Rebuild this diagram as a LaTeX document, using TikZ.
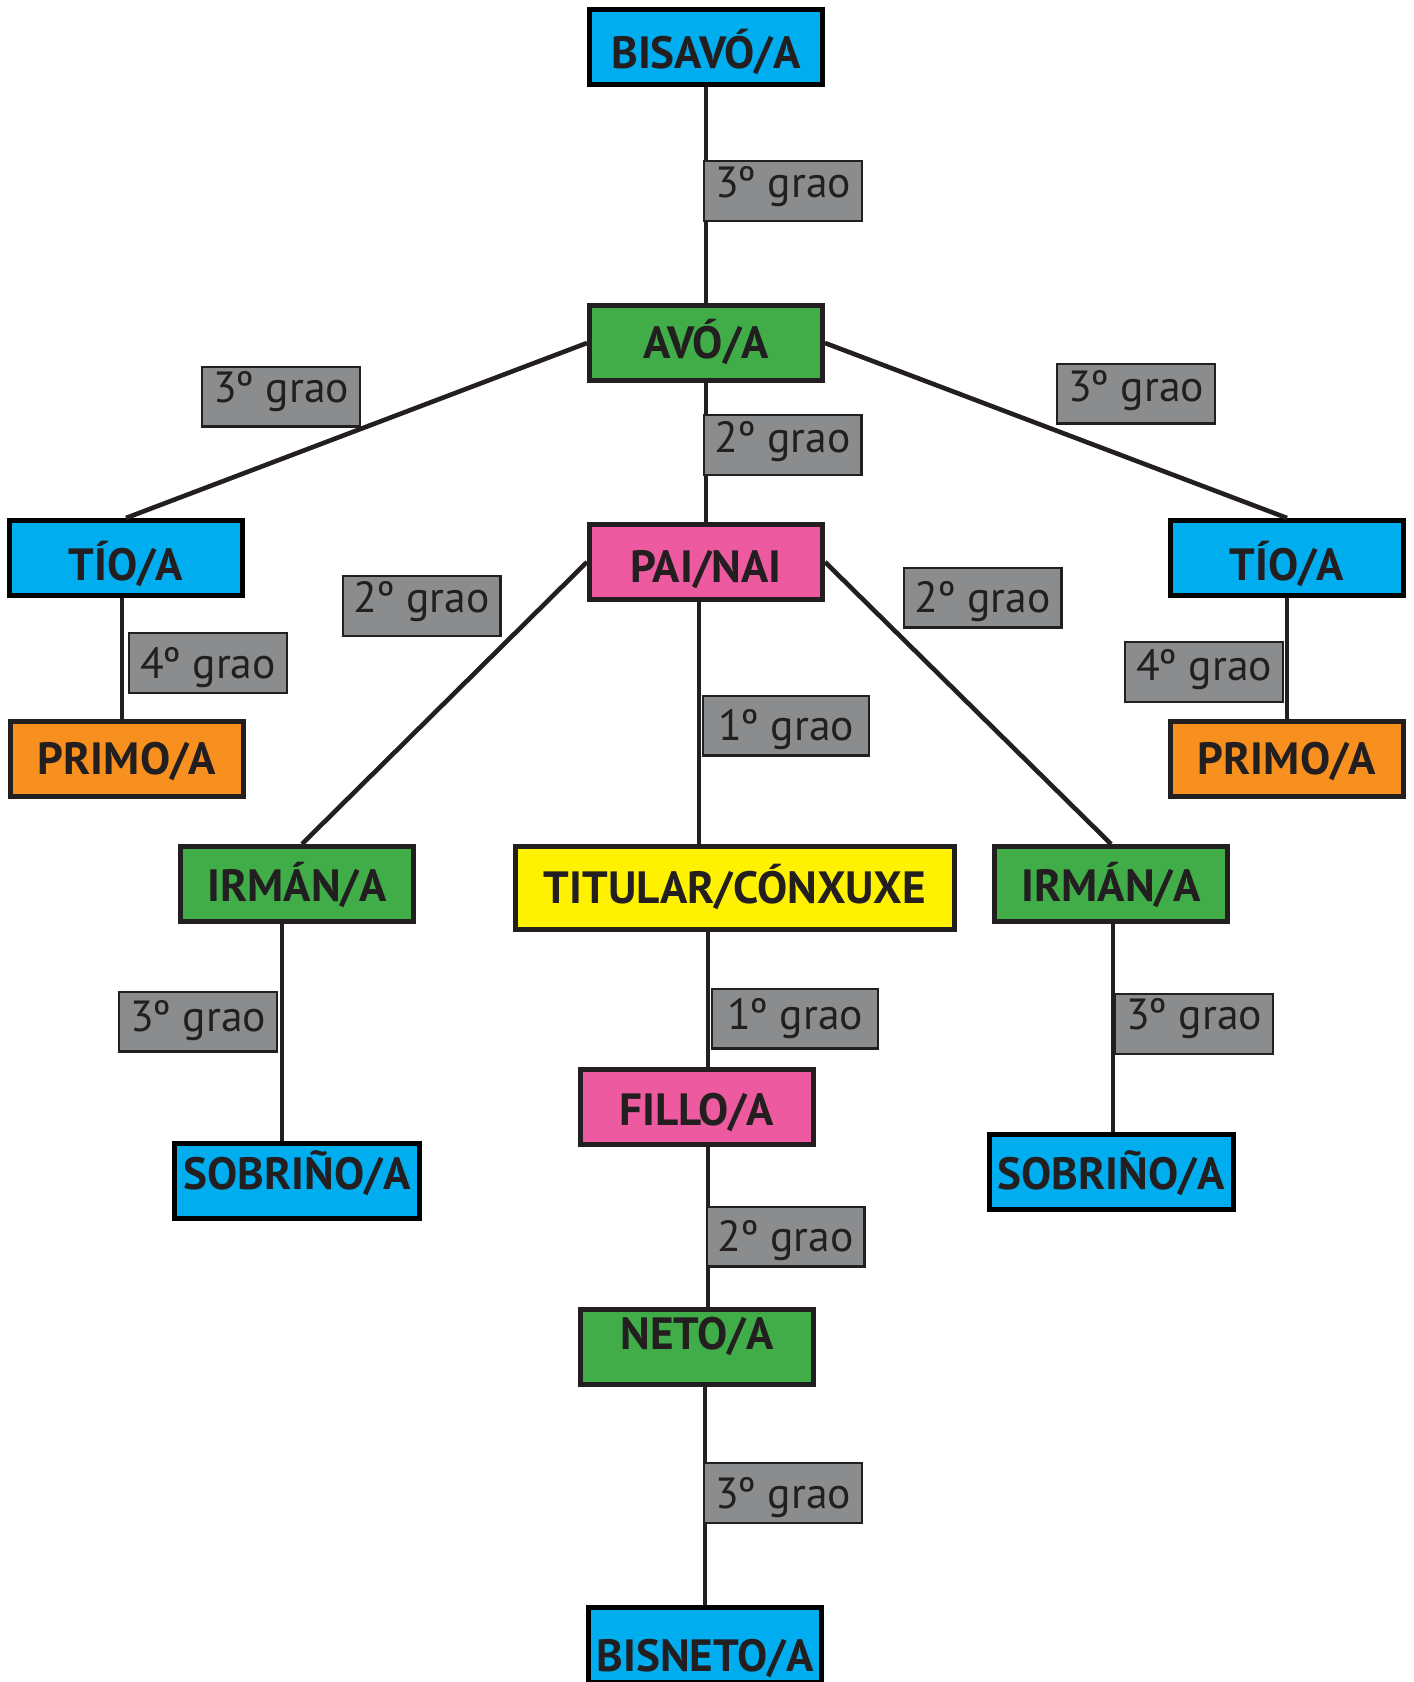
\documentclass[tikz,border=0pt]{standalone}
\usepackage{fontspec}
\setmainfont{PT Sans}
\definecolor{cblue}{HTML}{00AEEF}
\definecolor{cgreen}{HTML}{40AD49}
\definecolor{cpink}{HTML}{EE5A9F}
\definecolor{corange}{HTML}{F7901E}
\definecolor{cyellow}{HTML}{FFF200}
\definecolor{cgray}{HTML}{8A8C8E}
\definecolor{cdark}{HTML}{231F20}
\tikzset{
  box/.style={draw=cdark, line width=2.5pt, inner sep=0pt,
    minimum width=116.5pt, minimum height=37.5pt,
    font=\fontsize{22.6}{26}\selectfont\bfseries, text=cdark,
    text height=15.8pt, text depth=0pt},
  bluebox/.style={box, draw=black, fill=cblue},
  lbl/.style={draw=cdark, line width=1.2pt, fill=cgray, inner sep=0pt,
    minimum width=78.8pt, minimum height=29.8pt,
    font=\fontsize{21.8}{25}\selectfont, text=cdark,
    text height=15.3pt, text depth=0pt},
  conn/.style={draw=cdark, line width=2.3pt}
}
\begin{document}
\begin{tikzpicture}[x=0.5pt,y=-0.5pt]
\useasboundingbox (0,0) rectangle (1414,1682);
% main boxes
\node[bluebox, text height=21.8pt] (bisavo) at (706,47) {BISAVÓ/A};
\node[box, fill=cgreen] (avo) at (706,343) {AVÓ/A};
\node[box, fill=cpink, text height=20.3pt] (pai) at (706,562) {PAI/NAI};
\node[bluebox, text height=22.8pt] (tioL) at (126,558) {TÍO/A};
\node[bluebox, text height=22.8pt] (tioR) at (1287,558) {TÍO/A};
\node[box, fill=corange] (primoL) at (127,759) {PRIMO/A};
\node[box, fill=corange] (primoR) at (1287,759) {PRIMO/A};
\node[box, fill=cgreen, text height=17.8pt] (irmanL) at (297,884) {IRMÁN/A};
\node[box, fill=cgreen, text height=17.8pt] (irmanR) at (1111,884) {IRMÁN/A};
\node[box, fill=cyellow, minimum width=219.5pt, minimum height=41.5pt] (titular) at (735,888) {TITULAR/CÓNXUXE};
\node[box, fill=cpink, text height=18.8pt] (fillo) at (697,1107) {FILLO/A};
\node[box, fill=cgreen, text depth=13pt] (neto) at (697,1347) {NETO/A};
\node[bluebox, text height=26.8pt] (bisneto) at (705,1645) {BISNETO/A};
\node[bluebox, minimum width=122.5pt, text depth=7pt] (sobrinoL) at (297,1181) {SOBRIÑO/A};
\node[bluebox, minimum width=122pt, text height=17.8pt] (sobrinoR) at (1111,1172) {SOBRIÑO/A};
% connectors
\draw[conn] (bisavo.south) -- (avo.north);
\draw[conn] (avo.west) -- (tioL.north);
\draw[conn] (avo.east) -- (tioR.north);
\draw[conn] (avo.south) -- (pai.north);
\draw[conn] (pai.west) -- ([xshift=2.5pt]irmanL.north);
\draw[conn] (pai.east) -- (irmanR.north);
\draw[conn] ([xshift=-3.5pt]pai.south) -- ([xshift=-3.5pt]pai.south |- titular.north);
\draw[conn] ([xshift=-2pt]tioL.south) -- ([xshift=-2pt]tioL.south |- primoL.north);
\draw[conn] (tioR.south) -- (primoR.north);
\draw[conn] ([xshift=-7.5pt]irmanL.south) -- ([xshift=-7.5pt]irmanL.south |- sobrinoL.north);
\draw[conn] ([xshift=1pt]irmanR.south) -- ([xshift=1pt]irmanR.south |- sobrinoR.north);
\draw[conn] ([xshift=5.5pt]fillo.north |- titular.south) -- ([xshift=5.5pt]fillo.north);
\draw[conn] ([xshift=5.5pt]fillo.south) -- ([xshift=5.5pt]fillo.south |- neto.north);
\draw[conn] ([xshift=4pt]neto.south) -- ([xshift=4pt]neto.south |- bisneto.north);
% degree labels
\node[lbl, text depth=8.5pt] (l1) at (783,191) {3º grao};
\node[lbl, text depth=9pt] (l2) at (281,396.5) {3º grao};
\node[lbl, text depth=7.5pt] (l3) at (1136,393.5) {3º grao};
\node[lbl, text depth=7.5pt] (l4) at (782.5,445) {2º grao};
\node[lbl, text depth=8.5pt] (l5) at (421.5,606) {2º grao};
\node[lbl] (l6) at (982.5,597.5) {2º grao};
\node[lbl] (l7) at (208,663) {4º grao};
\node[lbl, text depth=6.5pt] (l8) at (1204,672) {4º grao};
\node[lbl, minimum width=82.8pt] (l9) at (786,725.5) {1º grao};
\node[lbl, text depth=5pt] (l10) at (198,1021.5) {3º grao};
\node[lbl, minimum width=82.8pt, text depth=4.5pt] (l11) at (795,1018.5) {1º grao};
\node[lbl, text depth=10pt] (l12) at (1194,1024) {3º grao};
\node[lbl] (l13) at (785.5,1236.5) {2º grao};
\node[lbl] (l14) at (783,1493) {3º grao};
\end{tikzpicture}
\end{document}
